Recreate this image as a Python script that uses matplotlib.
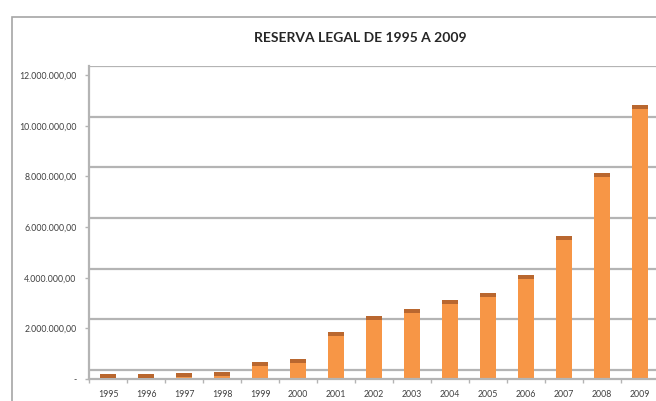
import matplotlib.pyplot as plt
from matplotlib.patches import Rectangle
from matplotlib.ticker import FuncFormatter

anos = ["1995", "1996", "1997", "1998", "1999", "2000", "2001", "2002",
        "2003", "2004", "2005", "2006", "2007", "2008", "2009"]
reserva = [180000, 190000, 220000, 270000, 670000, 790000, 1860000, 2490000,
           2750000, 3120000, 3410000, 4100000, 5660000, 8130000, 10820000]
y_ticks = [0, 2000000, 4000000, 6000000, 8000000, 10000000, 12000000]

FACE = "#F79646"
TOP = "#B9672F"
GRID = "#B4B4B4"
depth = 360000   # back wall offset (3d look)
cap = 160000

plt.rcParams["font.family"] = ["Lato", "DejaVu Sans"]

fig = plt.figure(figsize=(6.56, 4.01), dpi=100)
fig.patches.append(Rectangle((12 / 656, -0.1), 1.2, 1.1 - 17 / 401,
                             transform=fig.transFigure, fill=False,
                             edgecolor="#A6A6A6", lw=1.2))

ax = fig.add_axes([89 / 656, 22 / 401, 570 / 656, 313 / 401])
x = range(len(anos))

# back wall gridlines, shifted up for the depth
for v in y_ticks:
    ax.axhline(v + depth, color=GRID, lw=1.6, zorder=0)

ax.bar(x, reserva, width=0.43, color=FACE, zorder=2)
ax.bar(x, [cap] * len(reserva), bottom=[r - cap for r in reserva],
       width=0.43, color=TOP, zorder=3)

ax.set_xlim(-0.5, len(anos) - 0.5)
ax.set_ylim(0, 12000000 + depth)
ax.set_yticks(y_ticks)
ax.yaxis.set_major_formatter(FuncFormatter(
    lambda v, p: "-" if v == 0 else f"{v:,.2f}".replace(",", "X").replace(".", ",").replace("X", ".")))
ax.set_xticks(list(x))
ax.set_xticklabels(anos)
ax.set_xticks([i + 0.5 for i in range(-1, len(anos))], minor=True)
ax.tick_params(axis="x", which="major", length=0, pad=8, labelsize=6.3, colors="#404040")
ax.tick_params(axis="x", which="minor", length=3, color=GRID, width=1)
ax.tick_params(axis="y", length=3, color=GRID, width=1, pad=6, labelsize=6.3, labelcolor="#404040")

for s in ["top", "right"]:
    ax.spines[s].set_visible(False)
for s in ["left", "bottom"]:
    ax.spines[s].set_color(GRID)
    ax.spines[s].set_linewidth(1.6)

fig.text(360 / 656, 1 - 38 / 401, "RESERVA LEGAL DE 1995 A 2009", ha="center",
         va="center", fontsize=10, fontweight="bold", color="#262626")

fig.savefig("out.png", dpi=100)
